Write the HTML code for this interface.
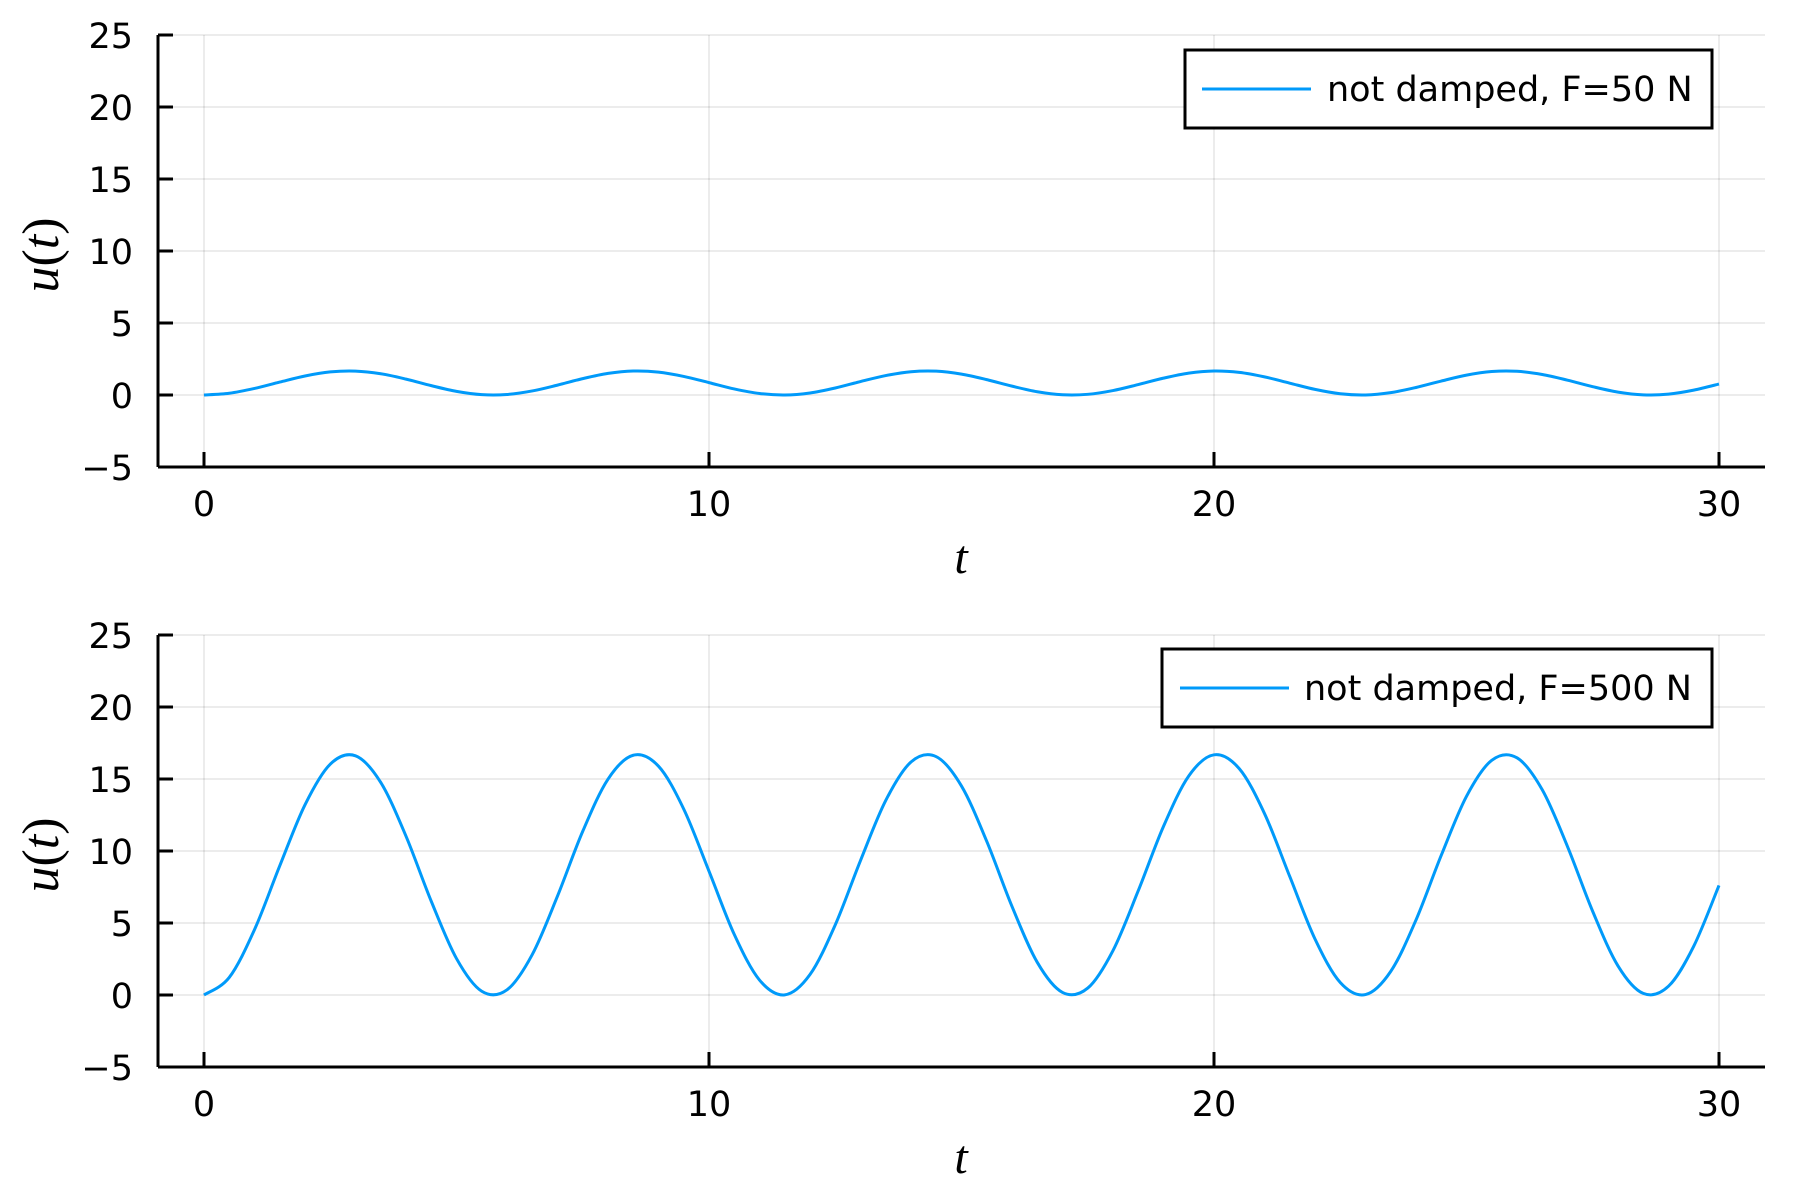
<!DOCTYPE html>
<html><head><meta charset="utf-8"><style>
html,body{margin:0;padding:0;background:#fff;}
svg{display:block;font-family:"DejaVu Sans","Liberation Sans",sans-serif;}
</style></head><body>
<svg id="chart" width="1800" height="1200" viewBox="0 0 1800 1200" xmlns="http://www.w3.org/2000/svg"></svg>
<script>
const xTicks = [0, 10, 20, 30];
const yTicks = [-5, 0, 5, 10, 15, 20, 25];
const yTickLabels = ["\u22125", "0", "5", "10", "15", "20", "25"];
const tValues = Array.from({length: 61}, (_, i) => i * 0.5);
const seriesF50 = [0,0.122,0.454,0.897,1.321,1.603,1.661,1.476,1.103,0.651,0.253,0.026,0.036,0.281,0.687,1.137,1.499,1.665,1.589,1.291,0.860,0.421,0.104,0.001,0.142,0.487,0.934,1.351,1.618,1.655,1.451,1.067,0.615,0.227,0.018,0.048,0.309,0.724,1.171,1.521,1.668,1.572,1.260,0.823,0.389,0.087,0.003,0.164,0.521,0.970,1.380,1.630,1.647,1.425,1.031,0.580,0.202,0.011,0.061,0.339,0.761];
const seriesF500 = [0,1.22,4.54,8.97,13.21,16.03,16.61,14.76,11.03,6.51,2.53,0.26,0.36,2.81,6.87,11.37,14.99,16.65,15.89,12.91,8.60,4.21,1.04,0.01,1.42,4.87,9.34,13.51,16.18,16.55,14.51,10.67,6.15,2.27,0.18,0.48,3.09,7.24,11.71,15.21,16.68,15.72,12.60,8.23,3.89,0.87,0.03,1.64,5.21,9.70,13.80,16.30,16.47,14.25,10.31,5.80,2.02,0.11,0.61,3.39,7.61];
const legendLabels = ["not damped, F=50 N", "not damped, F=500 N"];

const NS = "http://www.w3.org/2000/svg";
const svg = document.getElementById("chart");
function mk(tag, attrs, parent) {
  const e = document.createElementNS(NS, tag);
  for (const k in attrs) e.setAttribute(k, attrs[k]);
  (parent || svg).appendChild(e);
  return e;
}
const X0 = 204, X1 = 1719, AXL = 158, AXR = 1765;
function xScale(t) { return X0 + (t - 0) / 30 * (X1 - X0); }

function drawPanel(off, series, label, legendBox, idx) {
  const g = mk("g", {});
  
  
  const yTop = 35 + off, yBot = 467 + off;
  const yScale = v => yBot - (v + 5) / 30 * (yBot - yTop);
  xTicks.forEach(t => {
    const l = mk("line", {x1: xScale(t), x2: xScale(t), y1: yTop, y2: yBot, stroke: "#000", "stroke-opacity": 0.1, "stroke-width": 1.5}, g);
    
    
  });
  yTicks.forEach(v => {
    const l = mk("line", {x1: AXL, x2: AXR, y1: yScale(v), y2: yScale(v), stroke: "#000", "stroke-opacity": 0.1, "stroke-width": 1.5}, g);
    
    
  });
  const xa = mk("line", {x1: AXL, x2: AXR, y1: yBot, y2: yBot, stroke: "#000", "stroke-width": 3}, g);
  
  
  const ya = mk("line", {x1: AXL, x2: AXL, y1: yTop, y2: yBot, stroke: "#000", "stroke-width": 3}, g);
  
  
  xTicks.forEach(t => {
    const tk = mk("line", {x1: xScale(t), x2: xScale(t), y1: yBot, y2: yBot - 15, stroke: "#000", "stroke-width": 3}, g);
    
    
    const tx = mk("text", {x: xScale(t), y: yBot + 49, "text-anchor": "middle", "font-size": 35, fill: "#000"}, g);
    tx.textContent = String(t);
    
    
  });
  yTicks.forEach((v, i) => {
    const tk = mk("line", {x1: AXL, x2: AXL + 15, y1: yScale(v), y2: yScale(v), stroke: "#000", "stroke-width": 3}, g);
    
    
    const tx = mk("text", {x: 133, y: yScale(v) + 13, "text-anchor": "end", "font-size": 35, fill: "#000"}, g);
    tx.textContent = yTickLabels[i];
    
    
  });
  const xt = mk("text", {x: 961, y: yBot + 106, "text-anchor": "middle", "font-size": 48, "font-style": "italic", "font-family": "Liberation Serif, serif"}, g);
  xt.textContent = "t";
  
  
  const yt = mk("text", {x: 0, y: 0, "text-anchor": "middle", "font-size": 52, "font-family": "Liberation Serif, serif", transform: `translate(58,${255 + off}) rotate(-90)`}, g);
  yt.innerHTML = '<tspan font-style="italic">u</tspan>(<tspan font-style="italic">t</tspan>)';
  
  
  const pts = tValues.map((t, i) => [xScale(t), yScale(series[i])]);
  let d = `M${pts[0][0]},${pts[0][1]}`;
  for (let i = 0; i < pts.length - 1; i++) {
    const p0 = pts[Math.max(0, i - 1)], p1 = pts[i], p2 = pts[i + 1], p3 = pts[Math.min(pts.length - 1, i + 2)];
    const c1 = [p1[0] + (p2[0] - p0[0]) / 6, p1[1] + (p2[1] - p0[1]) / 6];
    const c2 = [p2[0] - (p3[0] - p1[0]) / 6, p2[1] - (p3[1] - p1[1]) / 6];
    d += `C${c1[0]},${c1[1]} ${c2[0]},${c2[1]} ${p2[0]},${p2[1]}`;
  }
  const path = mk("path", {d: d, fill: "none", stroke: "#009AFA", "stroke-width": 3, "stroke-linejoin": "round"}, g);
  
  
  const lg = mk("g", {}, g);
  
  
  const [bx, by, bw, bh, lx1, lx2, tx0] = legendBox;
  mk("rect", {x: bx, y: by + off, width: bw, height: bh, fill: "#fff", stroke: "#000", "stroke-width": 3}, lg);
  const ll = mk("line", {x1: lx1, x2: lx2, y1: by + off + bh / 2, y2: by + off + bh / 2, stroke: "#009AFA", "stroke-width": 3}, lg);
  
  
  const lt = mk("text", {x: tx0, y: by + off + bh / 2 + 12, "font-size": 35, fill: "#000"}, lg);
  lt.textContent = label;
  
  
}
drawPanel(0, seriesF50, legendLabels[0], [1185, 50, 527, 78, 1202, 1311, 1327], 0);
drawPanel(600, seriesF500, legendLabels[1], [1162, 49, 550, 78, 1180, 1289, 1304], 1);
</script>
</body></html>
